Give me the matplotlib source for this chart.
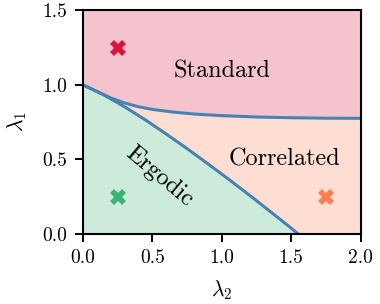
import numpy as np
import matplotlib
matplotlib.use("Agg")
import matplotlib.pyplot as plt

plt.rcParams['font.family'] = 'serif'
plt.rcParams['font.serif'] = ['cmr10', 'DejaVu Serif']
plt.rcParams['mathtext.fontset'] = 'cm'
plt.rcParams['axes.unicode_minus'] = False
plt.rcParams['axes.formatter.use_mathtext'] = True

# Boundary between Standard and Correlated phases
std_x = [0.0, 0.1, 0.2, 0.3, 0.4, 0.5, 0.65, 0.8, 1.0, 1.25, 1.5, 1.75, 2.0]
std_y = [1.0, 0.956, 0.912, 0.878, 0.853, 0.835, 0.817, 0.804, 0.793, 0.784, 0.779, 0.776, 0.775]

# Boundary of the Ergodic phase
erg_x = [0.0, 0.15, 0.3, 0.45, 0.6, 0.75, 0.9, 1.05, 1.2, 1.35, 1.45, 1.55]
erg_y = [1.0, 0.933, 0.853, 0.765, 0.67, 0.572, 0.47, 0.366, 0.259, 0.149, 0.075, 0.0]

# Marker points (one per phase)
pt_x = [0.25, 0.25, 1.75]
pt_y = [1.25, 0.25, 0.25]
pt_colors = ['#DC143C', '#3CB371', '#FF7F50']

# Labels
phase_names = ['Standard', 'Correlated', 'Ergodic']
label_x = [1.0, 1.45, 0.52]
label_y = [1.048, 0.458, 0.352]
label_rot = [0, 0, -40]

xticks = [0.0, 0.5, 1.0, 1.5, 2.0]
xtick_labels = ['0.0', '0.5', '1.0', '1.5', '2.0']
yticks = [0.0, 0.5, 1.0, 1.5]
ytick_labels = ['0.0', '0.5', '1.0', '1.5']

fig = plt.figure(figsize=(3.8, 3.04), dpi=100)
ax = fig.add_axes([0.218, 0.231, 0.731, 0.735])

xmin, xmax = 0.0, 2.0
ymin, ymax = 0.0, 1.5

c_std = '#F5C3CE'
c_cor = '#FEDED3'
c_erg = '#CDEBDA'
line_c = '#4682B4'

ax.fill_between(std_x, std_y, ymax, color=c_std, lw=0, zorder=1)
ax.fill_between(std_x, ymin, std_y, color=c_cor, lw=0, zorder=1)
ax.fill_between(erg_x, ymin, erg_y, color=c_erg, lw=0, zorder=2)

ax.plot(std_x, std_y, color=line_c, lw=2.2, zorder=3, solid_capstyle='butt')
ax.plot(erg_x, erg_y, color=line_c, lw=2.2, zorder=3, solid_capstyle='butt')

for x, y, c in zip(pt_x, pt_y, pt_colors):
    ax.plot(x, y, marker='X', ms=11, color=c, mew=0, ls='none', zorder=4)

for name, x, y, r in zip(phase_names, label_x, label_y, label_rot):
    ax.text(x, y, name, fontsize=17.5, ha='center', va='baseline',
            rotation=r, rotation_mode='anchor', zorder=5)

ax.set_xlim(xmin, xmax)
ax.set_ylim(ymin, ymax)
ax.set_xticks(xticks)
ax.set_xticklabels(xtick_labels)
ax.set_yticks(yticks)
ax.set_yticklabels(ytick_labels)
ax.tick_params(direction='out', length=6, width=1.4, labelsize=14, pad=5, color='black')
for s in ax.spines.values():
    s.set_linewidth(1.5)
    s.set_zorder(6)

ax.set_xlabel(r'$\lambda_2$', fontsize=15.5, labelpad=8)
ax.set_ylabel(r'$\lambda_1$', fontsize=15.5, labelpad=10)

fig.savefig('out.png', dpi=100)
